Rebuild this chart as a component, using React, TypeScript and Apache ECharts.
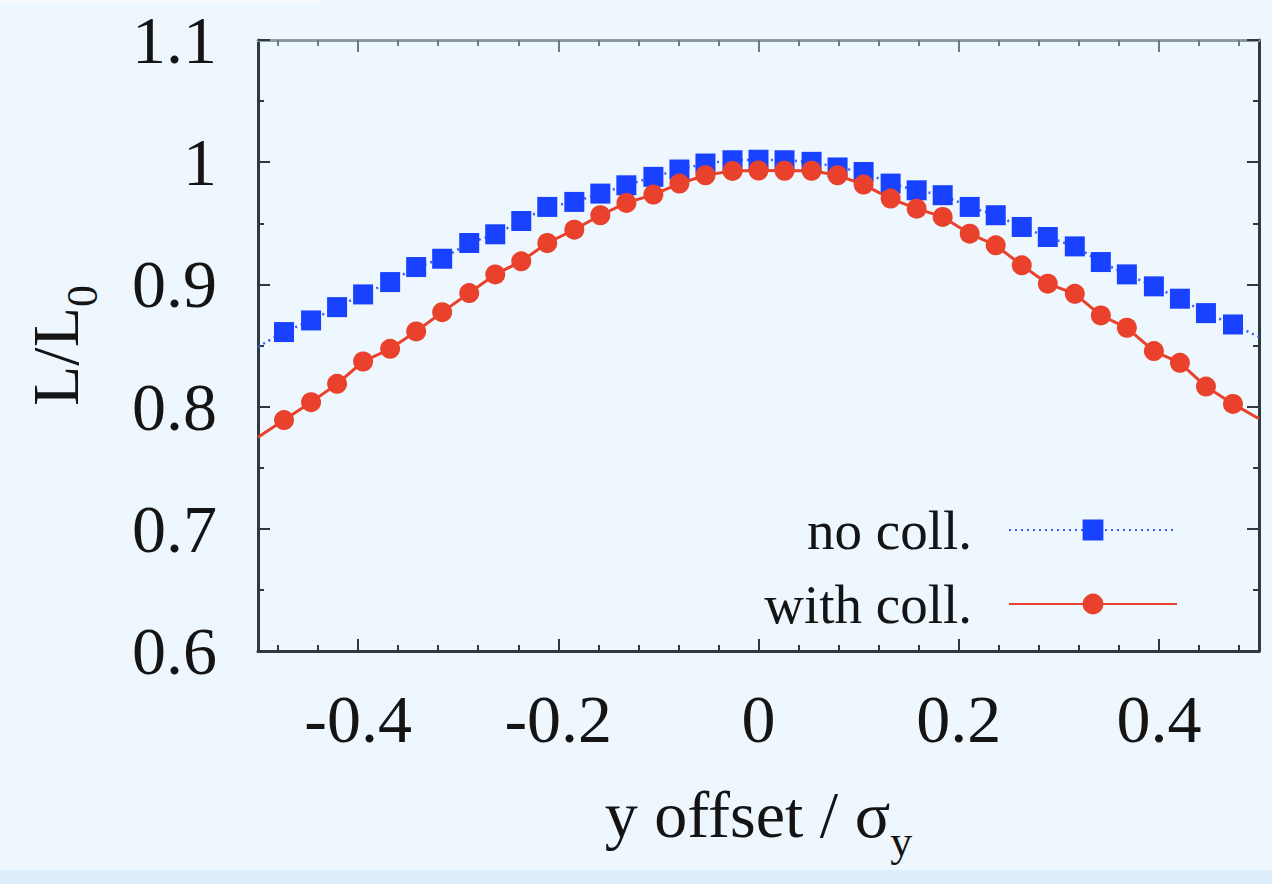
import React, { useEffect, useRef } from "react";
import * as echarts from "echarts";

// x positions of the measured points (y offset / sigma_y)
const xValues = [
  -0.474, -0.447, -0.421, -0.395, -0.368, -0.342, -0.316, -0.289, -0.263, -0.237,
  -0.211, -0.184, -0.158, -0.132, -0.105, -0.079, -0.053, -0.026, 0,
  0.026, 0.053, 0.079, 0.105, 0.132, 0.158, 0.184, 0.211, 0.237, 0.263,
  0.289, 0.316, 0.342, 0.368, 0.395, 0.421, 0.447, 0.474,
];

// L/L0 without collisions
const noColl = [
  0.861, 0.8705, 0.8814, 0.8918, 0.9019, 0.9142, 0.921, 0.9339, 0.941, 0.9519,
  0.9634, 0.9675, 0.9743, 0.9811, 0.988, 0.994, 0.9989, 1.0016, 1.002,
  1.0016, 1.0003, 0.9957, 0.992, 0.9825, 0.977, 0.973, 0.9634, 0.9566, 0.947,
  0.9388, 0.9311, 0.9183, 0.9082, 0.8984, 0.8883, 0.8765, 0.8672,
];

// L/L0 with collisions
const withColl = [
  0.789, 0.8036, 0.8186, 0.8369, 0.8473, 0.8615, 0.8773, 0.8929, 0.9082, 0.9189,
  0.9339, 0.9448, 0.9566, 0.9667, 0.9735, 0.9825, 0.9893, 0.9929, 0.9932,
  0.993, 0.993, 0.9893, 0.9817, 0.9702, 0.962, 0.9552, 0.9415, 0.932, 0.9156,
  0.9006, 0.8923, 0.8746, 0.8645, 0.8454, 0.8358, 0.8164, 0.8022,
];

// curve values where the lines meet the plot edges
const xEdges = [-0.5, 0.5];
const noCollEdges = [0.849, 0.857];
const withCollEdges = [0.775, 0.79];

// axis ticks
const xMajorTicks = [-0.4, -0.2, 0, 0.2, 0.4];
const xMinorTicks = [
  -0.48, -0.44, -0.36, -0.32, -0.28, -0.24, -0.16, -0.12, -0.08, -0.04,
  0.04, 0.08, 0.12, 0.16, 0.24, 0.28, 0.32, 0.36, 0.44, 0.48,
];

const FONT = "'Liberation Serif', 'Times New Roman', serif";
const TEXT = "#141414";
const AXIS = "#2f3a40";

function buildData(vals: number[], edges: number[]) {
  const pts: any[] = [{ value: [xEdges[0], edges[0]], symbol: "none" }];
  xValues.forEach((x, i) => pts.push([x, vals[i]]));
  pts.push({ value: [xEdges[1], edges[1]], symbol: "none" });
  return pts;
}

export default function App() {
  const ref = useRef<HTMLDivElement>(null);

  useEffect(() => {
    document.body.style.margin = "0";
    if (!ref.current) return;
    const chart = echarts.init(ref.current, null, { renderer: "svg" });

    const baseX = {
      type: "value",
      min: -0.5,
      max: 0.5,
      splitLine: { show: false },
    };
    const baseY = {
      type: "value",
      min: 0.6,
      max: 1.1,
      interval: 0.1,
      splitLine: { show: false },
    };

    chart.setOption({
      animation: false,
      backgroundColor: "#edf7fd",
      textStyle: { fontFamily: FONT },
      grid: { left: 258, top: 40, right: 13, bottom: 233, containLabel: false },
      graphic: [
        {
          type: "rect",
          shape: { x: 0, y: 870, width: 1272, height: 14 },
          style: { fill: "#ddeffd" },
          silent: true,
        },
        {
          type: "rect",
          shape: { x: 0, y: 0, width: 320, height: 4, r: [0, 0, 4, 0] },
          style: { fill: "#f7fbfe" },
          silent: true,
        },
      ],
      xAxis: [
        {
          ...baseX,
          position: "bottom",
          axisLine: { show: true, onZero: false, lineStyle: { color: AXIS, width: 3 } },
          axisTick: {
            show: true,
            inside: true,
            length: 12,
            customValues: xMajorTicks,
            lineStyle: { color: AXIS, width: 2 },
          },
          axisLabel: {
            show: true,
            customValues: xMajorTicks,
            margin: 34,
            fontSize: 68,
            color: TEXT,
            fontFamily: FONT,
          },
          name: "{a|y offset / σ}{b|y}",
          nameLocation: "middle",
          nameGap: 130,
          nameTextStyle: {
            color: TEXT,
            fontFamily: FONT,
            rich: {
              a: { fontSize: 66, lineHeight: 70, verticalAlign: "top", fontFamily: FONT, color: TEXT },
              b: { fontSize: 44, lineHeight: 44, padding: [38, 0, 0, 0], verticalAlign: "top", fontFamily: FONT, color: TEXT },
            },
          },
        },
        {
          ...baseX,
          position: "bottom",
          axisLine: { show: false, onZero: false },
          axisTick: {
            show: true,
            inside: true,
            length: 6,
            customValues: xMinorTicks,
            lineStyle: { color: AXIS, width: 2 },
          },
          axisLabel: { show: false },
        },
        {
          ...baseX,
          position: "top",
          axisLine: { show: true, onZero: false, lineStyle: { color: "#8c9aa2", width: 3 } },
          axisTick: {
            show: true,
            inside: true,
            length: 12,
            customValues: xMajorTicks,
            lineStyle: { color: "#6d7a82", width: 2 },
          },
          axisLabel: { show: false },
        },
        {
          ...baseX,
          position: "top",
          axisLine: { show: false, onZero: false },
          axisTick: {
            show: true,
            inside: true,
            length: 6,
            customValues: xMinorTicks,
            lineStyle: { color: "#6d7a82", width: 2 },
          },
          axisLabel: { show: false },
        },
      ],
      yAxis: [
        {
          ...baseY,
          position: "left",
          axisLine: { show: true, onZero: false, lineStyle: { color: AXIS, width: 3 } },
          axisTick: { show: true, inside: true, length: 12, lineStyle: { color: AXIS, width: 2 } },
          minorTick: { show: true, splitNumber: 2, length: 6, lineStyle: { color: AXIS, width: 2 } },
          minorSplitLine: { show: false },
          axisLabel: { show: true, margin: 41, fontSize: 68, color: TEXT, fontFamily: FONT },
          name: "{a|L/L}{b|0}",
          nameLocation: "middle",
          nameGap: 166,
          nameRotate: 90,
          nameTextStyle: {
            color: TEXT,
            fontFamily: FONT,
            rich: {
              a: { fontSize: 66, lineHeight: 70, verticalAlign: "top", fontFamily: FONT, color: TEXT },
              b: { fontSize: 44, lineHeight: 44, padding: [38, 0, 0, 0], verticalAlign: "top", fontFamily: FONT, color: TEXT },
            },
          },
        },
        {
          ...baseY,
          position: "right",
          axisLine: { show: true, onZero: false, lineStyle: { color: AXIS, width: 3 } },
          axisTick: { show: true, inside: true, length: 12, lineStyle: { color: AXIS, width: 2 } },
          minorTick: { show: true, splitNumber: 2, length: 6, lineStyle: { color: AXIS, width: 2 } },
          minorSplitLine: { show: false },
          axisLabel: { show: false },
        },
      ],
      legend: {
        orient: "vertical",
        right: 89,
        top: 497,
        align: "right",
        itemWidth: 168,
        itemHeight: 26,
        itemGap: 18,
        selectedMode: false,
        textStyle: {
          fontSize: 55,
          lineHeight: 56,
          color: TEXT,
          fontFamily: FONT,
          padding: [0, 32, 0, 0],
        },
        data: ["no coll.", "with coll."],
      },
      series: [
        {
          name: "no coll.",
          type: "line",
          xAxisIndex: 0,
          yAxisIndex: 0,
          symbol: "rect",
          symbolSize: 20,
          showAllSymbol: true,
          lineStyle: { color: "#3a5cff", width: 2.5, type: [2, 4] },
          itemStyle: { color: "#1842ff" },
          data: buildData(noColl, noCollEdges),
          z: 2,
        },
        {
          name: "with coll.",
          type: "line",
          xAxisIndex: 0,
          yAxisIndex: 0,
          symbol: "circle",
          symbolSize: 20,
          showAllSymbol: true,
          lineStyle: { color: "#e9412b", width: 3 },
          itemStyle: { color: "#e9412b" },
          data: buildData(withColl, withCollEdges),
          z: 3,
        },
      ],
    });

    return () => chart.dispose();
  }, []);

  return <div ref={ref} style={{ width: 1272, height: 884 }} />;
}
